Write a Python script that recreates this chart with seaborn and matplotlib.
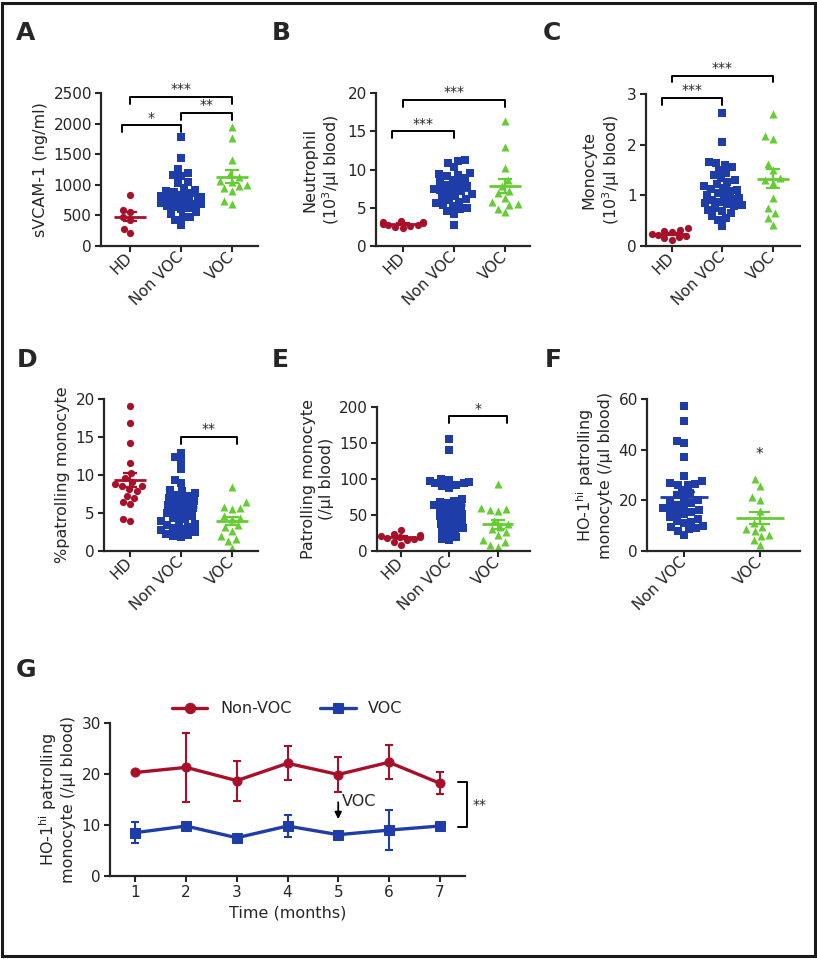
import numpy as np
import matplotlib
matplotlib.use("Agg")
import matplotlib.pyplot as plt
import seaborn as sns
from matplotlib.patches import Rectangle

# ------------------------------------------------------------
# Data
# ------------------------------------------------------------
groups3 = ["HD", "Non VOC", "VOC"]
groups2 = ["Non VOC", "VOC"]

# A - sVCAM-1 (ng/ml)
svcam_hd = [830, 590, 560, 470, 430, 270, 210]
svcam_nonvoc = [1780, 1430, 1260, 1200, 1160, 1150, 1050, 1030, 950, 920, 900, 880,
                860, 840, 820, 800, 790, 780, 760, 740, 720, 700, 690, 680, 660,
                640, 620, 600, 560, 530, 480, 470, 430, 350]
svcam_voc = [1950, 1760, 1400, 1180, 1120, 1060, 1050, 1000, 980, 940, 900, 740, 680]

# B - Neutrophil (10^3/ul)
neut_hd = [3.3, 3.2, 3.1, 3.0, 2.9, 2.8, 2.7, 2.6, 2.5, 2.4]
neut_nonvoc = [11.3, 11.1, 10.8, 10.3, 9.6, 9.4, 9.3, 9.1, 8.9, 8.6, 8.4, 8.2, 8.0,
               7.8, 7.6, 7.5, 7.3, 7.2, 7.0, 6.8, 6.6, 6.4, 6.2, 6.0, 5.8, 5.6,
               5.4, 5.2, 5.0, 4.8, 4.6, 4.2, 2.7]
neut_voc = [16.3, 13.0, 10.2, 8.6, 7.8, 7.2, 6.9, 6.3, 5.7, 5.5, 5.3, 4.9, 4.4]

# C - Monocyte (10^3/ul)
mono_hd = [0.35, 0.32, 0.30, 0.27, 0.24, 0.22, 0.20, 0.18, 0.15, 0.12]
mono_nonvoc = [2.62, 2.05, 1.65, 1.63, 1.60, 1.55, 1.50, 1.45, 1.40, 1.35, 1.30,
               1.27, 1.22, 1.18, 1.15, 1.12, 1.10, 1.08, 1.05, 1.00, 0.98, 0.95,
               0.92, 0.90, 0.87, 0.85, 0.82, 0.80, 0.78, 0.75, 0.72, 0.70, 0.65,
               0.60, 0.55, 0.52, 0.40]
mono_voc = [2.60, 2.18, 2.12, 1.62, 1.50, 1.35, 1.30, 1.25, 0.95, 0.75, 0.65, 0.55, 0.42]

# D - % patrolling monocyte
pct_hd = [19.1, 16.9, 14.2, 11.6, 10.2, 9.6, 9.1, 8.8, 8.6, 8.5, 8.2, 7.9,
          7.3, 7.0, 6.4, 6.2, 4.2, 4.0]
pct_nonvoc = [12.9, 12.4, 11.9, 10.8, 9.4, 8.9, 8.0, 7.9, 7.6, 7.4, 7.2, 7.0, 6.8,
              6.6, 6.4, 6.2, 6.0, 5.8, 5.6, 5.4, 5.2, 5.0, 4.8, 4.6, 4.4, 4.2,
              4.0, 3.8, 3.6, 3.4, 3.2, 3.0, 2.9, 2.7, 2.5, 2.3, 2.1, 2.0, 1.9]
pct_voc = [8.4, 6.4, 5.8, 5.6, 5.5, 4.6, 4.4, 4.2, 3.4, 3.2, 2.6, 2.0, 1.6, 1.3, 0.4]

# E - Patrolling monocyte (/ul)
pm_hd = [29, 24, 22, 21, 20, 19, 18, 17, 15, 13, 9]
pm_nonvoc = [155, 140, 100, 98, 97, 96, 95, 94, 92, 90, 88, 72, 70, 68, 66, 64, 62,
             60, 58, 55, 52, 50, 48, 45, 42, 40, 38, 35, 32, 30, 28, 25, 20, 17, 15]
pm_voc = [93, 60, 58, 57, 56, 42, 38, 34, 30, 26, 22, 15, 13, 8, 6]

# F - HO-1hi patrolling monocyte (/ul)
ho_nonvoc = [57.2, 51.3, 43.5, 42.5, 37.2, 29.7, 27.8, 27.0, 26.5, 26.2, 26.0,
             24.0, 23.0, 22.0, 21.0, 20.0, 19.5, 19.0, 18.0, 17.5, 17.0, 16.5,
             16.0, 15.5, 15.0, 14.5, 13.5, 12.5, 12.0, 11.5, 11.0, 10.0, 9.5,
             9.0, 8.8, 8.0, 6.5]
ho_voc = [28.3, 25.7, 21.5, 20.3, 15.6, 11.0, 9.5, 8.5, 7.8, 6.5, 5.8, 4.5, 2.4]

# G - time course (mean +/- SEM)
months = [1, 2, 3, 4, 5, 6, 7]
g_nonvoc_mean = [20.3, 21.3, 18.7, 22.1, 19.9, 22.3, 18.2]
g_nonvoc_sem = [0.2, 6.7, 3.9, 3.3, 3.4, 3.3, 2.1]
g_voc_mean = [8.5, 9.8, 7.5, 9.8, 8.1, 9.0, 9.8]
g_voc_sem = [2.0, 0.3, 0.6, 2.2, 0.6, 3.9, 0.4]

# ------------------------------------------------------------
# Style
# ------------------------------------------------------------
RED = "#A8102A"
BLUE = "#1F3DA8"
GREEN = "#66CC33"
STYLE = {"HD": (RED, "o", 5.2), "Non VOC": (BLUE, "s", 5.2), "VOC": (GREEN, "^", 5.8)}

sns.set_style("ticks")
plt.rcParams["font.family"] = ["DejaVu Sans"]
plt.rcParams["mathtext.default"] = "regular"
plt.rcParams["axes.linewidth"] = 1.6

TICK_FS = 11
LABEL_FS = 11.5

fig = plt.figure(figsize=(8.17, 9.59), dpi=100)
W, H = 817.0, 959.0


def add_axes(left, right, top, bottom):
    return fig.add_axes([left / W, 1 - bottom / H, (right - left) / W, (bottom - top) / H])


def style_axes(ax):
    sns.despine(ax=ax)
    ax.tick_params(axis="both", length=4.5, width=1.5, labelsize=TICK_FS, pad=2)


def dot_panel(ax, groups, values, ylim, yticks, ylabel, xlim):
    for i, g in enumerate(groups):
        color, marker, size = STYLE[g]
        vals = values[i]
        sns.swarmplot(x=[g] * len(vals), y=vals, order=groups, color=color,
                      marker=marker, size=size, ax=ax, warn_thresh=1, zorder=2)
        m = np.mean(vals)
        se = np.std(vals, ddof=1) / np.sqrt(len(vals))
        ax.hlines(m, i - 0.32, i + 0.32, color=color, lw=2, zorder=3)
        ax.vlines(i, m - se, m + se, color=color, lw=1.6, zorder=3)
        ax.hlines([m - se, m + se], i - 0.14, i + 0.14, color=color, lw=1.6, zorder=3)
    ax.set_xlim(*xlim)
    ax.set_ylim(*ylim)
    ax.set_yticks(yticks)
    ax.set_xticks(range(len(groups)))
    ax.set_xticklabels(groups, rotation=45, ha="right", va="center",
                       rotation_mode="anchor")
    ax.set_xlabel("")
    ax.set_ylabel(ylabel, fontsize=LABEL_FS, labelpad=4)
    style_axes(ax)


def bracket(ax, x1, x2, y, drop, text):
    ax.plot([x1, x1, x2, x2], [y - drop, y, y, y - drop], color="black", lw=1.4,
            clip_on=False, zorder=4)
    ax.annotate(text, xy=((x1 + x2) / 2, y), xytext=(0, 0.5), textcoords="offset points",
                ha="center", va="bottom", fontsize=10, annotation_clip=False)


# ------------------------------------------------------------
# Panels A - F
# ------------------------------------------------------------
axA = add_axes(101, 258, 93, 246)
dot_panel(axA, groups3, [svcam_hd, svcam_nonvoc, svcam_voc], (0, 2500),
          [0, 500, 1000, 1500, 2000, 2500], "sVCAM-1 (ng/ml)", (-0.57, 2.51))
bracket(axA, 0, 2, 2440, 115, "***")
bracket(axA, 1, 2, 2180, 115, "**")
bracket(axA, -0.16, 1, 1970, 115, "*")

axB = add_axes(376, 530, 93, 246)
dot_panel(axB, groups3, [neut_hd, neut_nonvoc, neut_voc], (0, 20),
          [0, 5, 10, 15, 20], "Neutrophil\n(10$^{3}$/µl blood)", (-0.53, 2.49))
bracket(axB, 0, 2, 19.1, 0.9, "***")
bracket(axB, -0.22, 1, 15.0, 0.9, "***")

axC = add_axes(646, 800, 94, 246)
dot_panel(axC, groups3, [mono_hd, mono_nonvoc, mono_voc], (0, 3),
          [0, 1, 2, 3], "Monocyte\n(10$^{3}$/µl blood)", (-0.51, 2.53))
bracket(axC, 0, 2, 3.36, 0.13, "***")
bracket(axC, -0.2, 1, 2.92, 0.13, "***")

axD = add_axes(104, 258, 399, 551)
dot_panel(axD, groups3, [pct_hd, pct_nonvoc, pct_voc], (0, 20),
          [0, 5, 10, 15, 20], "%patrolling monocyte", (-0.51, 2.51))
bracket(axD, 1, 2.1, 15.0, 0.9, "**")

axE = add_axes(377, 530, 407, 551)
dot_panel(axE, groups3, [pm_hd, pm_nonvoc, pm_voc], (0, 200),
          [0, 50, 100, 150, 200], "Patrolling monocyte\n(/µl blood)", (-0.49, 2.66))
bracket(axE, 1, 2.19, 187, 9, "*")

axF = add_axes(647, 800, 399, 551)
dot_panel(axF, groups2, [ho_nonvoc, ho_voc], (0, 60),
          [0, 20, 40, 60], "HO-1$^{hi}$ patrolling\nmonocyte (/µl blood)", (-0.49, 1.53))
axF.text(1, 37.9, "*", ha="center", va="center", fontsize=11)

# ------------------------------------------------------------
# Panel G - time course
# ------------------------------------------------------------
axG = add_axes(110, 465, 723, 876)
sns.lineplot(x=months, y=g_nonvoc_mean, color=RED, marker="o", markersize=6.5,
             markeredgecolor=RED, lw=2.4, label="Non-VOC", ax=axG, zorder=3)
sns.lineplot(x=months, y=g_voc_mean, color=BLUE, marker="s", markersize=6.5,
             markeredgecolor=BLUE, lw=2.4, label="VOC", ax=axG, zorder=3)
axG.errorbar(months, g_nonvoc_mean, yerr=g_nonvoc_sem, fmt="none", ecolor=RED,
             elinewidth=1.5, capsize=3, capthick=1.5, zorder=2)
axG.errorbar(months, g_voc_mean, yerr=g_voc_sem, fmt="none", ecolor=BLUE,
             elinewidth=1.5, capsize=3, capthick=1.5, zorder=2)
axG.set_xlim(0.5, 7.5)
axG.set_ylim(0, 30)
axG.set_xticks(months)
axG.set_yticks([0, 10, 20, 30])
axG.set_xlabel("Time (months)", fontsize=LABEL_FS, labelpad=4)
axG.set_ylabel("HO-1$^{hi}$ patrolling\nmonocyte (/µl blood)", fontsize=LABEL_FS, labelpad=4)
style_axes(axG)
axG.legend(loc="lower center", bbox_to_anchor=(0.5, 0.98), ncol=2, frameon=False,
           fontsize=LABEL_FS, handlelength=2.2, columnspacing=1.8, borderaxespad=0.2,
           markerscale=1.15)

# VOC event arrow and significance bracket
axG.annotate("", xy=(5, 10.6), xytext=(5, 15.0),
             arrowprops=dict(arrowstyle="-|>", color="black", lw=1.3, mutation_scale=10))
axG.text(5.08, 14.6, "VOC", ha="left", va="center", fontsize=LABEL_FS)
axG.plot([7.36, 7.53, 7.53, 7.36], [18.5, 18.5, 9.7, 9.7], color="black", lw=1.4,
         clip_on=False)
axG.text(7.78, 14.0, "**", ha="center", va="center", fontsize=10)

# ------------------------------------------------------------
# Panel letters and frame
# ------------------------------------------------------------
letters = [("A", 16, 33), ("B", 272, 33), ("C", 543, 33),
           ("D", 17, 360), ("E", 272, 360), ("F", 545, 360), ("G", 16, 670)]
for lab, px, py in letters:
    fig.text(px / W, 1 - py / H, lab, fontsize=18, fontweight="bold",
             ha="left", va="center")

fig.add_artist(Rectangle((2 / W, 3 / H), 813 / W, 953 / H, transform=fig.transFigure,
                         fill=False, lw=2.2, edgecolor="#1a1a1a"))

fig.savefig("out.png", dpi=100)
